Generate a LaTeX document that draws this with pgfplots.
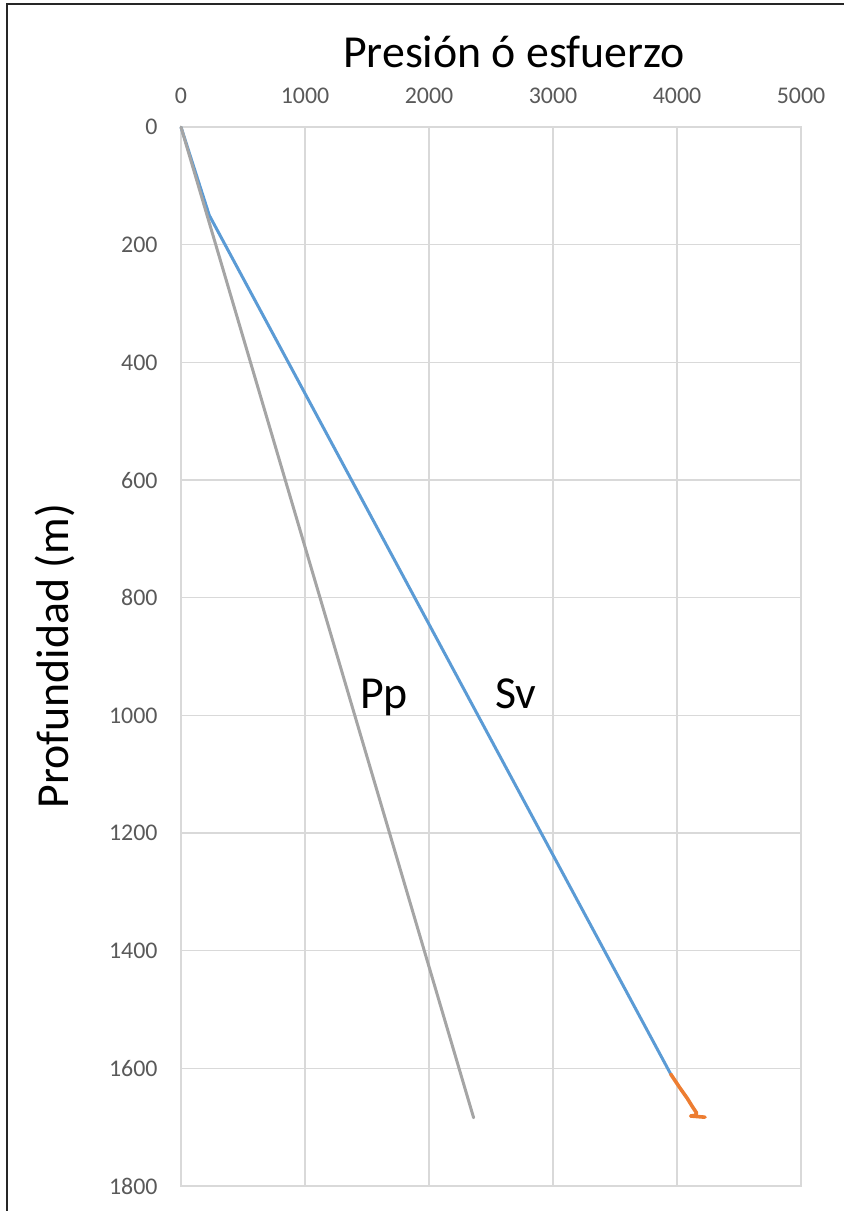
\documentclass[border=0pt]{standalone}
\usepackage{pgfplots}
\pgfplotsset{compat=1.18}
\usepackage{fontspec}
\setmainfont{Carlito}
\definecolor{svblue}{HTML}{5B9BD5}
\definecolor{tailorange}{HTML}{ED7D31}
\definecolor{ppgray}{HTML}{A5A5A5}
\definecolor{gridgray}{HTML}{D9D9D9}
\definecolor{ticktext}{HTML}{595959}
\begin{document}
\begin{tikzpicture}
\path[use as bounding box] (0,0) rectangle (422bp,-605.5bp);
% frame of the chart area
\draw[line width=1.25bp, black!85] (3.5bp,-605.5bp) -- (3.5bp,-2bp) -- (422bp,-2bp);
\node[anchor=base, font=\fontsize{23}{27}\selectfont] at (257bp,-33.5bp) {Presión ó esfuerzo};
\node[anchor=base, rotate=90, font=\fontsize{23}{27}\selectfont] at (34bp,-328bp) {Profundidad (m)};
\begin{axis}[
  at={(90.5bp,-63.5bp)}, anchor=north west,
  scale only axis, width=310bp, height=529.5bp,
  xmin=0, xmax=5000, ymin=0, ymax=1800, y dir=reverse,
  xtick={0,1000,...,5000}, ytick={0,200,...,1800},
  xticklabel pos=top,
  grid=major, major grid style={gridgray, line width=0.6bp},
  axis line style={gridgray, line width=0.6bp},
  major tick length=0pt,
  tick label style={font=\fontsize{12}{14}\selectfont, text=ticktext, inner sep=0pt},
  xticklabel style={anchor=base, yshift=12bp},
  yticklabel style={anchor=east, xshift=-11.5bp},
  /pgf/number format/assume math mode=true,
  /pgf/number format/1000 sep={},
  clip=false,
]
% vertical stress
\addplot[svblue, line width=1.5bp, line join=round] coordinates {
  (0,0) (228,150) (3950,1610)
};
% lower section of the vertical stress
\addplot[tailorange, line width=1.8bp, line join=round, line cap=round] coordinates {
  (3950,1610) (4016,1631) (4083,1651) (4124,1665) (4159,1676)
  (4145,1680) (4110,1681) (4226,1683)
};
% pore pressure
\addplot[ppgray, line width=1.5bp, line cap=round] coordinates {
  (0,0) (2360,1684)
};
\node[anchor=base, font=\fontsize{23}{27}\selectfont] at (axis cs:1637,988) {Pp};
\node[anchor=base, font=\fontsize{23}{27}\selectfont] at (axis cs:2702,988) {Sv};
\end{axis}
\end{tikzpicture}
\end{document}
